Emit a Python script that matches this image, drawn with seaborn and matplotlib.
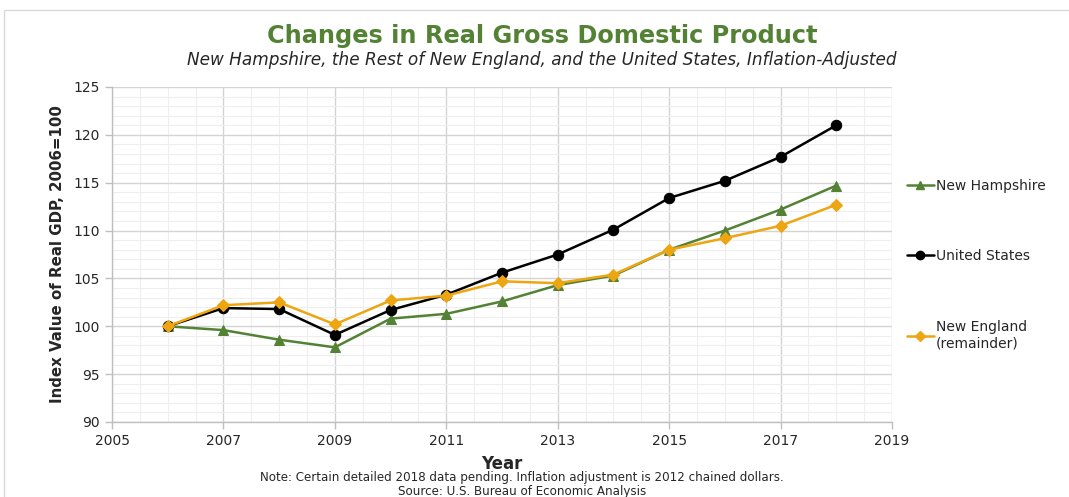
import matplotlib
matplotlib.use("Agg")
import matplotlib.pyplot as plt
from matplotlib.lines import Line2D
from matplotlib.patches import Rectangle
import numpy as np
import pandas as pd
import seaborn as sns

years = [2006, 2007, 2008, 2009, 2010, 2011, 2012, 2013, 2014, 2015, 2016, 2017, 2018]
new_hampshire = [100.0, 99.6, 98.6, 97.8, 100.8, 101.3, 102.6, 104.3, 105.3, 108.0, 110.0, 112.2, 114.7]
united_states = [100.0, 101.9, 101.8, 99.1, 101.7, 103.3, 105.6, 107.5, 110.1, 113.4, 115.2, 117.7, 121.0]
new_england = [100.0, 102.2, 102.5, 100.2, 102.7, 103.2, 104.7, 104.5, 105.4, 108.0, 109.2, 110.5, 112.7]

series_names = ["New Hampshire", "United States", "New England\n(remainder)"]
x_ticks = [2005, 2007, 2009, 2011, 2013, 2015, 2017, 2019]
y_ticks = [90, 95, 100, 105, 110, 115, 120, 125]

colors = ["#548235", "#000000", "#EDA511"]
markers = ["^", "o", "D"]
marker_sizes = [7, 7.5, 6]

df = pd.DataFrame({
    "Year": years * 3,
    "Value": new_hampshire + united_states + new_england,
    "Series": np.repeat(series_names, len(years)),
})

sns.set_theme(style="white")
plt.rcParams["font.family"] = ["DejaVu Sans"]

W, H = 1069, 497
fig = plt.figure(figsize=(W / 100, H / 100), dpi=100)
ax = fig.add_axes([112 / W, 1 - 422 / H, (892 - 112) / W, (422 - 87) / H])

# outer chart frame
fig.patches.append(Rectangle((4 / W, -0.01), 1.1, 1 - 10 / H + 0.01,
                             transform=fig.transFigure, fill=False,
                             edgecolor="#d9d9d9", linewidth=1.0))

# orange first so green/black sit on top where they overlap
order = [2, 0, 1]
for i in order:
    sub = df[df["Series"] == series_names[i]]
    sns.lineplot(data=sub, x="Year", y="Value", ax=ax, color=colors[i],
                 marker=markers[i], markersize=marker_sizes[i],
                 markeredgecolor=colors[i], linewidth=1.8, legend=False,
                 zorder=3 + i)

ax.set_xlim(x_ticks[0], x_ticks[-1])
ax.set_ylim(y_ticks[0], y_ticks[-1])
ax.set_xticks(x_ticks)
ax.set_xticks(np.arange(x_ticks[0], x_ticks[-1] + 0.01, 0.5), minor=True)
ax.set_yticks(y_ticks)
ax.set_yticks(np.arange(y_ticks[0], y_ticks[-1] + 0.01, 1), minor=True)
ax.grid(which="major", color="#d4d4d4", linewidth=1.0)
ax.grid(which="minor", color="#eeeeee", linewidth=0.8)
ax.set_axisbelow(True)

for side in ["top", "right"]:
    ax.spines[side].set_visible(False)
for side in ["left", "bottom"]:
    ax.spines[side].set_color("#bfbfbf")
    ax.spines[side].set_linewidth(1.0)

ax.tick_params(axis="both", which="major", labelsize=10, colors="#bfbfbf",
               labelcolor="#262626", length=5, width=1.0, direction="out",
               bottom=True, left=True)
ax.tick_params(axis="both", which="minor", length=0)

ax.set_xlabel("Year", fontsize=12, fontweight="bold", color="#262626", labelpad=5)
ax.set_ylabel("Index Value of Real GDP, 2006=100", fontsize=10.8, fontweight="bold",
              color="#262626", labelpad=6)

fig.text(542 / W, 1 - 36 / H, "Changes in Real Gross Domestic Product",
         ha="center", va="center", fontsize=17.3, fontweight="bold", color="#548235")
fig.text(542 / W, 1 - 60 / H,
         "New Hampshire, the Rest of New England, and the United States, Inflation-Adjusted",
         ha="center", va="center", fontsize=12.2, style="italic", color="#262626")
fig.text(522 / W, 1 - 478 / H,
         "Note: Certain detailed 2018 data pending. Inflation adjustment is 2012 chained dollars.",
         ha="center", va="center", fontsize=8.6, color="#262626")
fig.text(522 / W, 1 - 492 / H, "Source: U.S. Bureau of Economic Analysis",
         ha="center", va="center", fontsize=8.6, color="#262626")

# legend entries, one block per series
legend_y = [186, 256, 335]
for i, ly in enumerate(legend_y):
    h = Line2D([], [], color=colors[i], marker=markers[i],
               markersize=marker_sizes[i] * 0.8, markeredgecolor=colors[i],
               linewidth=1.8)
    leg = fig.legend(handles=[h], labels=[series_names[i]],
                     loc="center left", bbox_to_anchor=(901 / W, 1 - ly / H),
                     frameon=False, fontsize=10, handlelength=2.0,
                     handletextpad=0.1, borderaxespad=0)
    for t in leg.get_texts():
        t.set_color("#262626")

fig.savefig("out.png", dpi=100)
